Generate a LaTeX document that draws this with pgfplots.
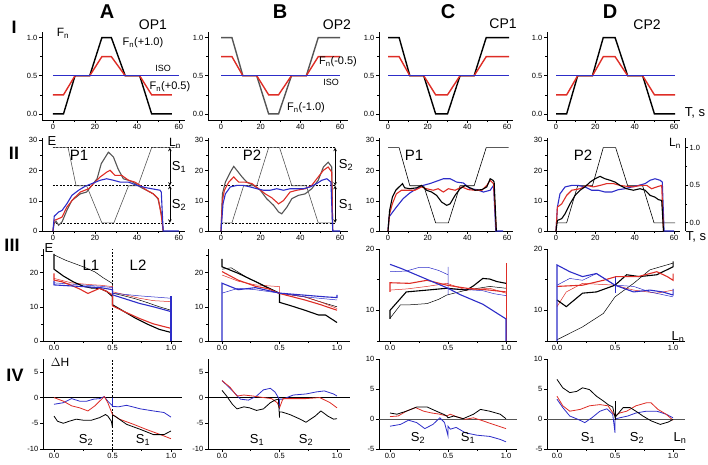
\documentclass[border=0pt]{standalone}
\usepackage{pgfplots}
\pgfplotsset{compat=1.18}
\usepackage{fontspec}
\setmainfont{Liberation Sans}
\definecolor{cred}{RGB}{222,45,38}
\definecolor{cblue}{RGB}{45,45,200}
\definecolor{cgray}{RGB}{85,85,85}
\pgfplotsset{
  base/.style={scale only axis, anchor=south west, clip=false, no markers,
    axis x line*=bottom, axis y line*=left,
    axis line style={line width=0.8pt,-},
    every tick/.style={black,line width=0.6pt},
    tick align=outside, major tick length=3pt, minor tick length=1.8pt,
    tick label style={font=\fontsize{7.5}{8}\selectfont},
    xticklabel style={inner sep=1.5pt}, yticklabel style={inner sep=1.5pt}},
  ovl/.style={scale only axis, anchor=south west, no markers, axis lines=none,
    height=88pt, ymin=-0.08, ymax=1.073},
  tcol/.style={xtick={0,20,40,60}, xticklabels={0,20,40,60}, minor xtick={10,30,50}},
  lcol/.style={xtick={0,0.5,1}, xticklabels={0.0,0.5,1.0}, minor xtick={0.25,0.75}},
  rowI/.style={height=88pt, ymin=-0.08, ymax=1.073, ytick={0,0.5,1}, yticklabels={0.0,0.5,1.0}, minor ytick={0.25,0.75}},
  rowII/.style={height=93pt, ymin=0, ymax=30.8, ytick={0,10,20,30}, yticklabels={0,10,20,30}, minor ytick={5,15,25}},
  rowIIIab/.style={height=92pt, ymin=0, ymax=26.9, ytick={0,10,20}, yticklabels={0,10,20}, minor ytick={5,15,25}},
  rowIIIcd/.style={height=92pt, ymin=5, ymax=20, ytick={10,20}, yticklabels={10,20}, minor ytick={5,15}},
  rowIVab/.style={height=90pt, ymin=-10, ymax=7.5, ytick={-10,-5,0,5}, yticklabels={-10,-5,0,5}},
  rowIVcd/.style={height=90pt, ymin=-5, ymax=10, ytick={-5,0,5,10}, yticklabels={-5,0,5,10}},
  tA/.style={width=143pt, xmin=-5.24, xmax=62.9},
  tB/.style={width=140pt, xmin=-6.56, xmax=64.0},
  tC/.style={width=134pt, xmin=-4.54, xmax=63.0},
  tD/.style={width=133pt, xmin=-4.58, xmax=63.0},
  lA/.style={width=139pt, xmin=-0.094, xmax=1.094},
  lB/.style={width=142pt, xmin=-0.122, xmax=1.113},
  lC/.style={width=138pt, xmin=-0.095, xmax=1.095},
  lD/.style={width=138pt, xmin=-0.086, xmax=1.103},
  sK/.style={black,line width=1.1pt}, sKt/.style={black,line width=0.5pt},
  sR/.style={cred,line width=1.1pt}, sRt/.style={cred,line width=0.5pt},
  sB/.style={cblue,line width=1.1pt}, sBt/.style={cblue,line width=0.5pt},
  sG/.style={cgray,line width=1.1pt},
  sI/.style={line width=1.4pt},
  sDash/.style={black,line width=0.5pt,dashed,dash pattern=on 2pt off 1.5pt},
}
\newcommand{\lab}[1]{\fontsize{#1}{#1}\selectfont}
\begin{document}
\begin{tikzpicture}
\path[use as bounding box] (0pt,0pt) rectangle (708pt,464pt);
% ================= ROW I =================
\begin{axis}[base,tcol,rowI,tA,at={(42pt,344pt)}]
\addplot[sI,black] coordinates {(0,0)(5,0)(10.5,0.5)(17.5,0.5)(23.3,1)(27.8,1)(34.4,0.5)(41.3,0.5)(47,0)(56.7,0)};
\addplot[sI,cred] coordinates {(0,0.25)(5,0.25)(10.5,0.5)(17.5,0.5)(23.3,0.75)(27.8,0.75)(34.4,0.5)(41.3,0.5)(47,0.25)(56.7,0.25)};
\end{axis}
\begin{axis}[ovl,tA,at={(42pt,344pt)}]
\addplot[cblue,line width=1.5pt] coordinates {(0,0.5)(60,0.5)};
\end{axis}
\begin{axis}[base,tcol,rowI,tB,at={(208pt,344pt)}]
\addplot[sI,cgray] coordinates {(0,1)(5.5,1)(11,0.5)(18,0.5)(24,0)(29,0)(35.5,0.5)(43,0.5)(49,1)(60,1)};
\addplot[sI,cred] coordinates {(0,0.75)(5.5,0.75)(11,0.5)(18,0.5)(24,0.25)(29,0.25)(35.5,0.5)(43,0.5)(49,0.75)(60,0.75)};
\end{axis}
\begin{axis}[ovl,tB,at={(208pt,344pt)}]
\addplot[cblue,line width=1.5pt] coordinates {(0,0.5)(60,0.5)};
\end{axis}
\begin{axis}[base,tcol,rowI,tC,at={(379pt,344pt)}]
\addplot[sI,black] coordinates {(0,1)(5.6,1)(11,0.5)(18,0.5)(24,0)(30,0)(36.3,0.5)(43.4,0.5)(49.5,1)(61,1)};
\addplot[sI,cred] coordinates {(0,0.75)(5.6,0.75)(11,0.5)(18,0.5)(24,0.25)(30,0.25)(36.3,0.5)(43.4,0.5)(49.5,0.75)(61,0.75)};
\end{axis}
\begin{axis}[ovl,tC,at={(379pt,344pt)}]
\addplot[cblue,line width=1.5pt] coordinates {(0,0.5)(61,0.5)};
\end{axis}
\begin{axis}[base,tcol,rowI,tD,at={(547pt,344pt)}]
\addplot[sI,black] coordinates {(0,0)(5.4,0)(11,0.5)(18.5,0.5)(24,1)(30,1)(36.4,0.5)(44,0.5)(50,0)(60.5,0)};
\addplot[sI,cred] coordinates {(0,0.25)(5.4,0.25)(11,0.5)(18.5,0.5)(24,0.75)(30,0.75)(36.4,0.5)(44,0.5)(50,0.25)(60.5,0.25)};
\end{axis}
\begin{axis}[ovl,tD,at={(547pt,344pt)}]
\addplot[cblue,line width=1.5pt] coordinates {(0,0.5)(60.5,0.5)};
\end{axis}
% ================= ROW II =================
\begin{axis}[base,tcol,rowII,tA,at={(42pt,233pt)}]
\addplot[sDash] coordinates {(0,27.6)(57.5,27.6)};
\addplot[sDash] coordinates {(0,15)(57.5,15)};
\addplot[sDash] coordinates {(0,2.7)(57.5,2.7)};
\addplot[cgray,line width=0.6pt] coordinates {(0,27.6)(7.2,27.6)(11,15)(16,15)(23.3,2.7)(29,2.7)(36,15)(40.5,15)(47,27.6)(60,27.6)};
\addplot[sG] coordinates {(0,0)(0.5,2.5)(1.5,3.2)(2.7,1.9)(4.3,3)(6.6,6.8)(9,10.1)(13,12.3)(16,12.9)(18.5,15.1)(21,17.3)(23,22.3)(26.4,26.1)(28.8,24.5)(31,20.6)(33.5,17.3)(36,16.8)(38,16.2)(41.5,14.6)(44.6,13.5)(47.8,12.3)(50,10.7)(51.7,5.7)(52.5,0)};
\addplot[sR] coordinates {(0,0)(0.6,3.5)(2.7,4.1)(4.3,4.6)(6.6,7.9)(9.8,10.7)(13,12.9)(17,14)(19.3,15.7)(22.5,17.9)(25.6,19.5)(27.2,20.1)(29.6,18.4)(32.8,18.4)(36,16.8)(39,16.2)(41.5,15.1)(44.6,13.5)(47.8,12.3)(50.2,10.7)(51.7,4.6)(52.5,0)};
\addplot[sB] coordinates {(0,0)(0.6,4.9)(2.7,6.3)(4.3,6.8)(6.6,9)(9,11.8)(12.2,13.5)(15.3,14.8)(18.5,15.7)(22.5,16.8)(25.6,17.3)(28.8,16.8)(32,16.2)(36,16.2)(40,15.1)(44.6,14.3)(48.6,13.8)(51,13.5)(51.6,12.9)(52.5,0)(60,0)};
\draw[<->,>=stealth,line width=0.6pt] (axis cs:55.7,27.6) -- (axis cs:55.7,15);
\draw[<->,>=stealth,line width=0.6pt] (axis cs:55.7,15) -- (axis cs:55.7,2.7);
\end{axis}
\begin{axis}[base,tcol,rowII,tB,at={(208pt,233pt)}]
\addplot[sDash] coordinates {(0,27.6)(58,27.6)};
\addplot[sDash] coordinates {(0,15)(58,15)};
\addplot[sDash] coordinates {(0,2.7)(58,2.7)};
\addplot[cgray,line width=0.6pt] coordinates {(0,2.7)(5.5,2.7)(11.4,15)(18,15)(24,27.6)(29.5,27.6)(35.7,15)(43,15)(49,2.7)(56.6,2.7)};
\addplot[sG] coordinates {(0,0)(0.7,12.3)(2.2,16.2)(4.7,19.5)(6.4,21.4)(8,20.1)(10.6,17.9)(13,16.2)(16.4,15.1)(19.8,13.5)(23,10.7)(26.5,8.5)(29,6.3)(30.6,5.7)(33.2,7.9)(35.7,10.7)(39,11.8)(42.4,12.3)(45.7,14)(49,16.8)(51.6,21.2)(54,22.8)(55.8,21.2)(56.3,0)};
\addplot[sR] coordinates {(0,0)(0.7,10.1)(1.7,13.5)(3.9,16.2)(6.4,17.9)(8.9,16.2)(12.2,16.2)(15.6,15.7)(19,14)(22.3,12.3)(25.6,11)(29,9)(31.5,10.1)(34.8,12.9)(38.2,13.5)(42.4,14)(45.7,15.1)(49,17.9)(51.6,20.1)(54,21.2)(55.8,19.5)(56.3,0)};
\addplot[sB] coordinates {(0,0)(1,9)(2.2,12.3)(4.7,14.6)(8,15.1)(11.4,15.1)(14.7,14.6)(18.1,14)(21.4,13.5)(24.8,13.5)(28.1,14)(31.5,13.5)(34.8,14)(38.2,14)(41.5,14)(44.9,14.6)(48.2,15.7)(50.8,16.8)(53.3,17.3)(55.4,16.2)(56.3,0)(60,0)};
\draw[<->,>=stealth,line width=0.6pt] (axis cs:57.5,27.6) -- (axis cs:57.5,15);
\draw[<->,>=stealth,line width=0.6pt] (axis cs:57.5,15) -- (axis cs:57.5,2.7);
\end{axis}
\begin{axis}[base,tcol,rowII,tC,at={(379pt,233pt)}]
\addplot[black,line width=0.6pt] coordinates {(0,27.6)(5.6,27.6)(11,15)(18,15)(24,2.7)(30.4,2.7)(36.3,15)(43.4,15)(49.5,27.6)(60.8,27.6)};
\addplot[sB] coordinates {(0,0)(0.5,4.6)(1.7,5.7)(4.2,7.9)(7.6,10.7)(11,12.6)(14.4,14)(17.7,15.1)(21.1,15.7)(24.5,16.5)(27.9,17.3)(31.3,17.3)(34.6,16.2)(38,15.9)(41.4,14)(44.8,13.7)(48.1,12.9)(51.5,13.5)(53.2,15.1)(54.3,0)(58,0)};
\addplot[sR] coordinates {(0,0)(0.8,5.7)(2.2,9)(4.2,12.3)(6.8,13.5)(10.1,13.5)(13.5,13.5)(16.9,14.6)(19.4,14)(22.8,13.5)(25.3,14)(27.9,12.9)(30.4,14)(33.8,13.5)(37.2,14.6)(40.5,13.7)(43.9,13.5)(47.3,13.5)(49.8,15.1)(51.5,16.8)(53.2,15.7)(54.6,0)};
\addplot[sK] coordinates {(0,0)(0.8,6.8)(2.2,11.2)(3.9,13.5)(5.9,14.8)(7.3,15.7)(8.4,14.3)(11,14)(14.4,14.3)(16.9,15.1)(19.4,13.5)(22,12.9)(24.5,11.8)(27,9.6)(29.6,8.5)(31.3,9)(33.8,11.8)(36.3,14)(38.9,15.1)(41.4,14.3)(43.9,13.5)(47.3,13.7)(49.8,14.6)(51.5,17.3)(52.9,16.8)(53.5,16.2)(54.6,0)};
\end{axis}
\begin{axis}[base,tcol,rowII,tD,at={(547pt,233pt)}]
\addplot[black,line width=0.6pt] coordinates {(0,2.7)(5.4,2.7)(11,15)(18.5,15)(24,27.6)(30.3,27.6)(36.4,15)(44,15)(49.8,2.7)(60.5,2.7)};
\addplot[sB] coordinates {(0,0)(0.7,7.9)(2,12.3)(4.6,14.6)(8,15.1)(11.4,15.1)(14.7,14.6)(18.1,13.5)(21.5,13.5)(24.9,12.9)(28.3,12.9)(31.7,13.7)(35,14)(38.5,14.6)(41.9,15.1)(45.3,15.7)(47.8,16.8)(50.3,17.3)(52.9,16.8)(54,16.2)(54.9,0)(60,0)};
\addplot[sR] coordinates {(0,0)(0.7,7.9)(2.9,9)(5.4,11.8)(8,13.5)(12.2,14)(15.6,15.1)(19,14.6)(22.4,15.1)(25.8,15.7)(29.2,15.7)(32.5,15.1)(35.9,14.8)(39.3,14.6)(42.7,15.1)(46.1,15.1)(48.6,14)(51.2,14.6)(53.7,15.1)(54.6,0)};
\addplot[sK] coordinates {(0,0)(0.7,3.5)(2.9,4.1)(4.6,5.7)(7.1,9)(9.7,11.8)(12.2,13.5)(14.7,14.6)(17.3,16.2)(19.8,17.3)(22.4,18.1)(24.9,17.3)(27.5,16.8)(30,16.2)(32.5,15.1)(35.9,14)(39.3,13.5)(42.7,14)(45.3,13.5)(47.8,11.8)(50.3,11.2)(52,10.4)(53.7,10.1)(54.6,0)};
\end{axis}
\begin{axis}[base, width=138pt, height=93pt, at={(547pt,233pt)}, xmin=0, xmax=1,
  axis x line=none, axis y line*=right, ymin=-0.113, ymax=1.129,
  ytick={0,0.5,1}, yticklabels={0.0,0.5,1.0}, minor ytick={0.25,0.75}]
\end{axis}
% ================= ROW III =================
\begin{axis}[base,lcol,rowIIIab,lA,at={(43pt,123pt)}]
\addplot[sDash] coordinates {(0.5,0)(0.5,26.9)};
\addplot[sKt] coordinates {(0,25.2)(0.1,23.6)(0.25,21.7)(0.35,20.2)(0.42,18.5)(0.5,16.8)(0.5,14)(0.6,13.2)(0.7,12.3)(0.8,11.2)(0.9,10)(1.0,9)};
\addplot[sRt] coordinates {(0,18.3)(0.15,17)(0.3,16.5)(0.4,16.3)(0.5,15.9)(0.5,14.4)(0.73,12.5)(0.85,11.8)(1.0,11.5)};
\addplot[sBt] coordinates {(0,17)(0.2,16.5)(0.4,16)(0.5,15.6)(0.5,14)(0.73,13.2)(1.0,12.5)};
\addplot[sK] coordinates {(0,25.5)(0,21)(0.08,19)(0.165,17.3)(0.25,16)(0.32,15.5)(0.39,15.4)(0.45,14.5)(0.5,13)(0.5,10.6)(0.6,8.6)(0.7,6.6)(0.8,4.9)(0.9,3.4)(1.0,2.5)};
\addplot[sR] coordinates {(0,19.8)(0,17.8)(0.07,17.3)(0.14,16.4)(0.22,15.2)(0.29,13.9)(0.35,14.8)(0.39,15.4)(0.45,14.5)(0.5,13.5)(0.5,10.3)(0.6,8.6)(0.73,6.6)(0.85,5)(1.0,3.7)};
\addplot[sB] coordinates {(0,17.6)(0,16.4)(0.1,16.2)(0.25,15.9)(0.4,15.6)(0.5,15)(0.5,13.5)(0.73,11)(0.85,10)(1.0,8.6)};
\addplot[sB] coordinates {(1.0,0)(1.0,13.2)};
\end{axis}
\begin{axis}[base,lcol,rowIIIab,lB,at={(208pt,123pt)}]
\addplot[sKt] coordinates {(0,21)(0.08,21.4)(0.23,18.3)(0.35,16.5)(0.5,14)(0.72,12.9)(0.85,11.5)(1.0,10)};
\addplot[sRt] coordinates {(0,19.3)(0.14,17.5)(0.29,16.4)(0.5,15.9)(0.5,14)(0.72,12.9)(0.85,11.5)(1.0,9.5)};
\addplot[sBt] coordinates {(0,14)(0.14,15.4)(0.29,15)(0.5,14)(0.72,12.9)(1.0,12)};
\addplot[sK] coordinates {(0,24)(0,21.7)(0.14,19.8)(0.29,17.4)(0.4,15.5)(0.47,14.4)(0.5,13.9)(0.5,11.3)(0.6,10.3)(0.72,9)(0.84,7.6)(0.9,7.6)(1.0,5.4)};
\addplot[sR] coordinates {(0,20.3)(0.14,17.8)(0.29,16)(0.4,15.3)(0.5,13.9)(0.72,12)(0.85,10.7)(1.0,9)};
\addplot[sB] coordinates {(0,0)(0,16.9)(0.14,15)(0.29,15.6)(0.5,14)(0.72,13.4)(0.9,12.9)(1.0,12.7)(1.0,13.5)};
\end{axis}
\begin{axis}[base,lcol,rowIIIcd,lC,at={(379pt,123pt)}]
\addplot[sRt] coordinates {(1.0,5)(1.0,17.7)};
\addplot[sKt] coordinates {(0,8.7)(0.09,10.9)(0.17,10.9)(0.32,11.1)(0.42,11.8)(0.49,12.5)(0.66,13.3)(0.86,13.9)(1.0,13.6)};
\addplot[sRt] coordinates {(0,13.3)(0.15,13.5)(0.32,13.9)(0.49,14.4)(0.66,13.3)(0.86,13.6)(1.0,12.8)};
\addplot[sBt] coordinates {(0,16.3)(0.14,16.4)(0.25,17)(0.33,17)(0.42,16.5)(0.5,15.8)(0.5,17.1)(0.5,12.5)(0.5,13.5)(0.65,13.4)(0.8,13.2)(0.9,12.7)(1.0,12.4)};
\addplot[sK] coordinates {(0,8.6)(0,10)(0.07,11.5)(0.14,13)(0.32,13.3)(0.49,13.6)(0.66,13.3)(0.72,14)(0.8,15.2)(0.86,15.1)(0.92,14.7)(1.0,14.4)};
\addplot[sR] coordinates {(0,13)(0,14.5)(0.17,14.4)(0.32,14.9)(0.49,14.1)(0.66,13.6)(0.86,13.3)(1.0,13)};
\addplot[sB] coordinates {(0,17.5)(0.1,16.8)(0.2,16)(0.3,15.2)(0.4,14.4)(0.5,13.6)(0.6,12.6)(0.7,11.8)(0.8,11)(0.9,9.8)(1.0,8.6)(1.0,5)};
\end{axis}
\begin{axis}[base,lcol,rowIIIcd,lD,at={(547pt,123pt)}]
\addplot[sKt] coordinates {(0,5.2)(0.22,7.3)(0.4,9.5)(0.5,12.2)(0.66,14.4)(0.8,16.6)(1.0,17.7)};
\addplot[sRt] coordinates {(0,10.6)(0.08,13)(0.22,14.4)(0.5,14.1)(0.66,13.3)(0.86,12.8)(1.0,13.3)};
\addplot[sBt] coordinates {(0,14.1)(0.11,15.2)(0.22,14.9)(0.34,16)(0.5,14.1)(0.66,13.9)(0.8,13)(1.0,12.2)};
\addplot[sBt] coordinates {(0.5,12.8)(0.5,15.6)};
\addplot[sK] coordinates {(0,11.7)(0.08,10.6)(0.22,12.8)(0.34,13)(0.5,14.1)(0.6,15.8)(0.71,15.5)(0.86,15.8)(1.0,17.1)(1.0,18)};
\addplot[sR] coordinates {(0,13.9)(0.22,14.1)(0.4,14.9)(0.51,15.5)(0.7,15.5)(0.86,16.3)(0.95,15.5)(1.0,14.9)(1.0,16)};
\addplot[sB] coordinates {(0,5)(0,17.4)(0.11,16.3)(0.22,15.5)(0.34,16)(0.5,14.1)(0.66,13)(0.8,13.3)(0.91,13)(1.0,12.5)(1.0,13.5)};
\end{axis}
% ================= ROW IV =================
\begin{axis}[base,lcol,rowIVab,lA,at={(43pt,15pt)}]
\addplot[black,line width=0.8pt] coordinates {(-0.094,0)(1.094,0)};
\addplot[sDash] coordinates {(0.5,-10)(0.5,7.5)};
\addplot[cblue,line width=0.8pt] coordinates {(0,-1.3)(0.08,-1)(0.15,-0.2)(0.22,-0.7)(0.28,-0.7)(0.34,-0.3)(0.39,-0.2)(0.43,0.2)(0.46,-0.7)(0.5,-1.6)(0.5,0)(0.5,-1.7)(0.55,-1.8)(0.62,-1.5)(0.74,-2.2)(0.85,-2.6)(0.94,-2.9)(1.0,-3.8)};
\addplot[cred,line width=0.8pt] coordinates {(0,0)(0.08,-0.7)(0.15,-1.6)(0.22,-2)(0.29,-2.6)(0.35,-1.6)(0.39,-0.7)(0.43,0.2)(0.46,-1)(0.5,-3.3)(0.56,-4.2)(0.68,-5.2)(0.79,-6.2)(0.91,-7.2)(1.0,-8)};
\addplot[black,line width=0.8pt] coordinates {(0,-3.6)(0.03,-4.6)(0.08,-5)(0.13,-4.6)(0.19,-4.2)(0.25,-4.4)(0.32,-4.4)(0.39,-3.9)(0.44,-3.3)(0.46,-3.6)(0.49,-4.6)(0.5,-5.8)(0.5,-3.4)(0.52,-3.6)(0.62,-5.2)(0.74,-6.2)(0.85,-7.2)(0.94,-7.2)(1.0,-6.5)};
\end{axis}
\begin{axis}[base,lcol,rowIVab,lB,at={(208pt,15pt)}]
\addplot[black,line width=0.8pt] coordinates {(-0.122,0)(1.113,0)};
\addplot[cblue,line width=0.8pt] coordinates {(0,3.3)(0.07,1.8)(0.16,-0.3)(0.23,-0.5)(0.3,0.3)(0.36,1.5)(0.42,1.8)(0.46,1.1)(0.49,0)(0.5,-2.3)(0.5,-0.3)(0.53,-0.3)(0.62,0.5)(0.73,0.7)(0.82,1.1)(0.89,1.3)(0.97,0.7)(1.0,0.3)};
\addplot[cred,line width=0.8pt] coordinates {(0,3.3)(0.07,2)(0.13,0.3)(0.19,0.5)(0.27,0.3)(0.36,0)(0.43,-0.2)(0.48,-1)(0.5,-2)(0.53,-0.2)(0.62,-0.2)(0.73,-0.2)(0.85,0)(0.94,-1)(1.0,-2)};
\addplot[black,line width=0.8pt] coordinates {(0,1.4)(0.04,0.3)(0.09,-1.3)(0.13,-2.2)(0.19,-1.8)(0.24,-2)(0.3,-2.5)(0.36,-2.2)(0.42,-1)(0.46,-0.5)(0.49,-0.3)(0.5,-3.9)(0.5,-2.8)(0.52,-2.8)(0.59,-3.3)(0.68,-4.2)(0.73,-4.8)(0.81,-3.6)(0.86,-2.6)(0.92,-3.6)(0.97,-4.2)(1.0,-4.1)};
\end{axis}
\begin{axis}[base,lcol,rowIVcd,lC,at={(379pt,15pt)}]
\addplot[cgray,line width=0.9pt] coordinates {(-0.095,0)(1.095,0)};
\addplot[cblue,line width=0.8pt] coordinates {(0,-1.2)(0.09,-0.9)(0.16,-0.2)(0.23,-0.6)(0.3,-1.6)(0.37,-0.9)(0.43,0.2)(0.47,-0.6)(0.5,-2.8)(0.5,-1.2)(0.52,-1.7)(0.57,-1.4)(0.65,-2.3)(0.75,-2.7)(0.86,-2.9)(0.95,-3.4)(1.0,-3.8)};
\addplot[cred,line width=0.8pt] coordinates {(0,0.4)(0.07,0.5)(0.14,1.3)(0.22,1.9)(0.29,1.3)(0.36,1)(0.43,0.8)(0.49,0.5)(0.52,0.8)(0.57,0.4)(0.65,-0.05)(0.72,0.2)(0.8,-0.3)(0.89,-0.9)(1.0,-1.6)};
\addplot[black,line width=0.8pt] coordinates {(0,1)(0.06,0.8)(0.14,1.3)(0.23,2)(0.32,2)(0.4,1.3)(0.46,0.8)(0.49,0.5)(0.5,0.2)(0.55,0.5)(0.63,0.05)(0.72,0.8)(0.78,1.6)(0.86,1.3)(0.95,0.8)(1.0,0.05)};
\end{axis}
\begin{axis}[base,lcol,rowIVcd,lD,at={(547pt,15pt)}]
\addplot[cgray,line width=0.9pt] coordinates {(-0.086,0)(1.103,0)};
\addplot[cblue,line width=0.8pt] coordinates {(0,3.3)(0.05,1.9)(0.11,0.5)(0.18,-0.05)(0.24,-0.6)(0.3,0.2)(0.37,1.3)(0.43,1.7)(0.48,0.8)(0.5,-2.3)(0.5,0)(0.54,0.2)(0.61,0.5)(0.68,1)(0.77,1.3)(0.86,1.3)(0.94,0.8)(1.0,0.2)};
\addplot[cred,line width=0.8pt] coordinates {(0,3.8)(0.05,2.2)(0.11,1.3)(0.2,1.6)(0.28,2.2)(0.37,2.4)(0.44,2.2)(0.5,0.5)(0.54,1)(0.6,1.3)(0.68,2.2)(0.77,2.7)(0.81,2.7)(0.87,1.6)(0.94,0.8)(1.0,-0.2)};
\addplot[black,line width=0.8pt] coordinates {(0,6.6)(0.05,5.2)(0.11,4.4)(0.17,4.6)(0.22,5.2)(0.28,4.9)(0.34,3.8)(0.4,3)(0.44,2.4)(0.48,2)(0.5,0.3)(0.51,0.5)(0.57,1.9)(0.63,1.9)(0.68,1.3)(0.74,0.5)(0.81,-0.3)(0.89,-0.9)(0.96,-0.5)(1.0,-0.05)};
\addplot[black,line width=0.8pt] coordinates {(0.5,-0.2)(0.5,3)};
\end{axis}
% ================= TEXT =================
\begin{scope}[every node/.style={inner sep=0pt}]
\node[font=\lab{20}\bfseries] at (107pt,452pt) {A};
\node[font=\lab{20}\bfseries] at (280pt,452pt) {B};
\node[font=\lab{20}\bfseries] at (448pt,452pt) {C};
\node[font=\lab{20}\bfseries] at (610pt,452pt) {D};
\node[font=\lab{18}\bfseries] at (14pt,437pt) {I};
\node[font=\lab{18}\bfseries] at (14pt,311pt) {II};
\node[font=\lab{18}\bfseries] at (12pt,219pt) {III};
\node[font=\lab{18}\bfseries] at (15pt,89pt) {IV};
\node[font=\lab{14}] at (153pt,439pt) {OP1};
\node[font=\lab{14}] at (337pt,439pt) {OP2};
\node[font=\lab{14}] at (503pt,440pt) {CP1};
\node[font=\lab{14}] at (647pt,439pt) {CP2};
\node[font=\lab{12}] at (63pt,431pt) {F\textsubscript{n}};
\node[font=\lab{11}] at (143pt,421pt) {F\textsubscript{n}(+1.0)};
\node[font=\lab{9}] at (163pt,396pt) {ISO};
\node[font=\lab{11}] at (170pt,377pt) {F\textsubscript{n}(+0.5)};
\node[font=\lab{11}] at (338pt,402pt) {F\textsubscript{n}(-0.5)};
\node[font=\lab{9}] at (331pt,382pt) {ISO};
\node[font=\lab{11}] at (306pt,356pt) {F\textsubscript{n}(-1.0)};
\node[font=\lab{13}] at (695pt,351pt) {T, s};
% row II
\node[font=\lab{13}] at (52pt,323pt) {E};
\node[font=\lab{12}] at (175pt,321pt) {L\textsubscript{n}};
\node[font=\lab{15}] at (79pt,309pt) {P1};
\node[font=\lab{13}] at (179pt,297pt) {S\textsubscript{1}};
\node[font=\lab{13}] at (179pt,259pt) {S\textsubscript{2}};
\node[font=\lab{15}] at (252pt,309pt) {P2};
\node[font=\lab{13}] at (346pt,299pt) {S\textsubscript{2}};
\node[font=\lab{13}] at (346pt,259pt) {S\textsubscript{1}};
\node[font=\lab{15}] at (414pt,309pt) {P1};
\node[font=\lab{15}] at (583pt,309pt) {P2};
\node[font=\lab{12}] at (675pt,321pt) {L\textsubscript{n}};
\node[font=\lab{13}] at (696pt,227pt) {T, s};
% row III
\node[font=\lab{13}] at (49pt,216pt) {E};
\node[font=\lab{15}] at (91pt,199pt) {L1};
\node[font=\lab{15}] at (138pt,199pt) {L2};
\node[font=\lab{13}] at (678pt,127pt) {L\textsubscript{n}};
% row IV
\node[font=\lab{12}] at (60pt,102pt) {$\Delta$H};
\node[font=\lab{13}] at (86pt,24pt) {S\textsubscript{2}};
\node[font=\lab{13}] at (143pt,24pt) {S\textsubscript{1}};
\node[font=\lab{13}] at (257pt,24pt) {S\textsubscript{1}};
\node[font=\lab{13}] at (306pt,24pt) {S\textsubscript{2}};
\node[font=\lab{13}] at (418pt,26pt) {S\textsubscript{2}};
\node[font=\lab{13}] at (468pt,26pt) {S\textsubscript{1}};
\node[font=\lab{13}] at (588pt,26pt) {S\textsubscript{1}};
\node[font=\lab{13}] at (637pt,26pt) {S\textsubscript{2}};
\node[font=\lab{13}] at (680pt,26pt) {L\textsubscript{n}};
\end{scope}
\end{tikzpicture}
\end{document}
